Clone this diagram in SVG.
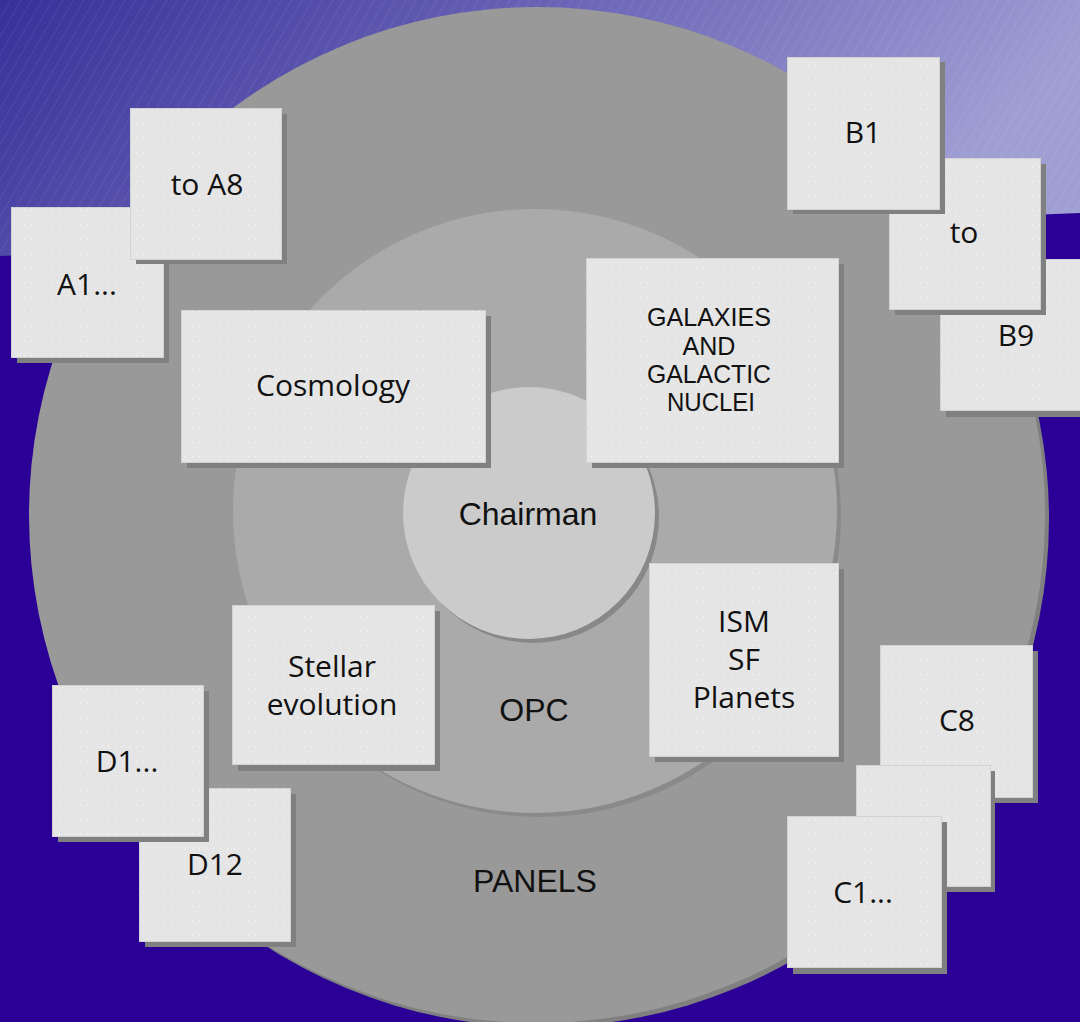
<svg xmlns="http://www.w3.org/2000/svg" width="1080" height="1022" viewBox="0 0 1080 1022">
<defs>
<linearGradient id="sky" x1="0" y1="0" x2="1" y2="0.25">
<stop offset="0" stop-color="#37309a"/>
<stop offset="0.5" stop-color="#6a65b6"/>
<stop offset="1" stop-color="#a09fd4"/>
</linearGradient>
<pattern id="hatch" width="9" height="9" patternUnits="userSpaceOnUse" patternTransform="rotate(30)">
<line x1="0" y1="0" x2="0" y2="9" stroke="#ffffff" stroke-opacity="0.14" stroke-width="1"/>
</pattern>
<pattern id="dots" width="7" height="14.5" patternUnits="userSpaceOnUse">
<rect width="7" height="14.5" fill="#e5e5e5"/>
<rect x="3" y="7" width="1" height="1" fill="#ffffff"/>
</pattern>
<pattern id="dots2" width="7" height="14.5" patternUnits="userSpaceOnUse">
<rect width="7" height="14.5" fill="#cbcbcb"/>
<rect x="3" y="7" width="1" height="1" fill="#d6d6d6"/>
</pattern>
</defs>
<style>
.bx{fill:url(#dots);stroke:#d2d2d2;stroke-width:1}
.sh{fill:#808080}
.t{font-family:"Open Sans","Noto Sans",sans-serif;font-size:30px;fill:#111;text-anchor:middle}
.a{font-family:"Liberation Sans",Arial,sans-serif;font-size:32px;fill:#111;text-anchor:middle}
.g{font-family:"Liberation Sans",Arial,sans-serif;font-size:26px;fill:#111;text-anchor:middle}
</style>
<g id="background">
<rect width="1080" height="1022" fill="#2a0096"/>
<polygon points="0,0 1080,0 1080,213 0,256" fill="url(#sky)"/>
<polygon points="0,0 1080,0 1080,213 0,256" fill="url(#hatch)"/>
</g>
<g id="panels-ring">
<circle cx="541" cy="519" r="508" fill="#808080"/>
<circle cx="537" cy="515" r="508" fill="#999999"/>
</g>
<g id="opc-ring">
<circle cx="539" cy="515" r="302" fill="#8a8a8a"/>
<circle cx="535" cy="511" r="302" fill="#aaaaaa"/>
</g>
<g id="chairman">
<circle cx="533" cy="517" r="126" fill="#888888"/>
<circle cx="529" cy="513" r="126" fill="url(#dots2)"/>
<text class="a" x="528" y="525">Chairman</text>
</g>
<text class="a" x="534" y="721">OPC</text>
<text class="a" x="535" y="892">PANELS</text>
<g id="A1">
<rect class="sh" x="17" y="213" width="152" height="150"/>
<rect class="bx" x="11.5" y="207.5" width="152" height="150"/>
<text class="t" x="87" y="295">A1...</text>
</g>
<g id="A8">
<rect class="sh" x="136" y="114" width="151" height="150"/>
<rect class="bx" x="130.5" y="108.5" width="151" height="151"/>
<text class="t" x="207" y="195">to A8</text>
</g>
<g id="cosmology">
<rect class="sh" x="187" y="316" width="304" height="152"/>
<rect class="bx" x="181.5" y="310.5" width="304" height="152"/>
<text class="t" x="333" y="396">Cosmology</text>
</g>
<g id="galaxies">
<rect class="sh" x="592" y="264" width="252" height="204"/>
<rect class="bx" x="586.5" y="258.5" width="252" height="204"/>
<text class="g" x="709" y="326" textLength="124" lengthAdjust="spacingAndGlyphs">GALAXIES</text>
<text class="g" x="709" y="355" textLength="53" lengthAdjust="spacingAndGlyphs">AND</text>
<text class="g" x="709" y="383" textLength="124" lengthAdjust="spacingAndGlyphs">GALACTIC</text>
<text class="g" x="711" y="411" textLength="88" lengthAdjust="spacingAndGlyphs">NUCLEI</text>
</g>
<g id="B9">
<rect class="sh" x="946" y="265" width="140" height="152"/>
<rect class="bx" x="940.5" y="259.5" width="142" height="151"/>
<text class="t" x="1016" y="346">B9</text>
</g>
<g id="Bto">
<rect class="sh" x="895" y="164" width="151" height="151"/>
<rect class="bx" x="889.5" y="158.5" width="151" height="151"/>
<text class="t" x="964" y="243">to</text>
</g>
<g id="B1">
<rect class="sh" x="793" y="62" width="152" height="152"/>
<rect class="bx" x="787.5" y="57.5" width="152" height="152"/>
<text class="t" x="863" y="143">B1</text>
</g>
<g id="ism">
<rect class="sh" x="655" y="569" width="189" height="193"/>
<rect class="bx" x="649.5" y="563.5" width="189" height="193"/>
<text class="t" x="744" y="632">ISM</text>
<text class="t" x="744" y="670">SF</text>
<text class="t" x="744" y="708">Planets</text>
</g>
<g id="stellar">
<rect class="sh" x="238" y="611" width="202" height="160"/>
<rect class="bx" x="232.5" y="605.5" width="202" height="159"/>
<text class="t" x="332" y="677">Stellar</text>
<text class="t" x="332" y="715">evolution</text>
</g>
<g id="C8">
<rect class="sh" x="886" y="651" width="152" height="152"/>
<rect class="bx" x="880.5" y="645.5" width="152" height="152"/>
<text class="t" x="957" y="731">C8</text>
</g>
<g id="Cmid">
<rect class="sh" x="861" y="771" width="134" height="121"/>
<rect class="bx" x="856.5" y="765.5" width="134" height="121"/>
</g>
<g id="C1">
<rect class="sh" x="793" y="822" width="154" height="152"/>
<rect class="bx" x="787.5" y="816.5" width="154" height="151"/>
<text class="t" x="863" y="903">C1...</text>
</g>
<g id="D12">
<rect class="sh" x="145" y="794" width="151" height="153"/>
<rect class="bx" x="139.5" y="788.5" width="151" height="153"/>
<text class="t" x="215" y="875">D12</text>
</g>
<g id="D1">
<rect class="sh" x="58" y="691" width="151" height="151"/>
<rect class="bx" x="52.5" y="685.5" width="151" height="151"/>
<text class="t" x="127" y="772">D1...</text>
</g>
</svg>
